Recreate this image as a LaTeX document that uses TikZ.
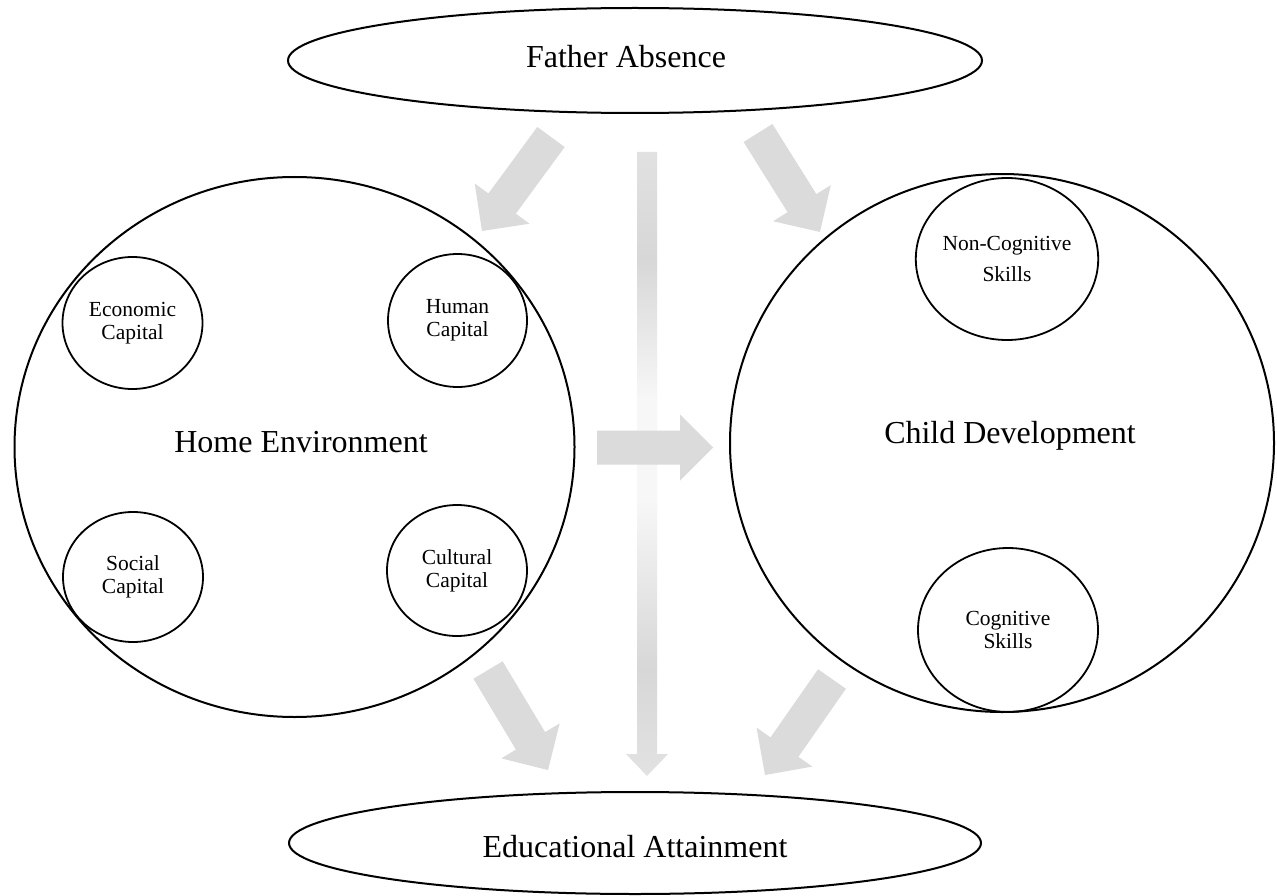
\documentclass[tikz,border=0pt]{standalone}
\usepackage{fontspec}
\setmainfont{Liberation Serif}
\usetikzlibrary{shapes.geometric,calc}
\definecolor{arrowgray}{RGB}{219,219,219}
\definecolor{ga}{RGB}{226,226,226}
\definecolor{gb}{RGB}{215,215,215}
\definecolor{gc}{RGB}{247,247,247}
\definecolor{gd}{RGB}{225,225,225}
\pgfdeclareverticalshading{vgrad}{100bp}{color(0bp)=(ga); color(25bp)=(ga); color(33.6bp)=(gb); color(47.2bp)=(gc); color(55.2bp)=(gc); color(66.4bp)=(gb); color(75bp)=(gd); color(100bp)=(gd)}
% #1 options, #2 from, #3 to, #4 half shaft, #5 half head, #6 head length
\newcommand\fatarrow[6]{%
  \coordinate (#2-h) at ($(#3)!#6!(#2)$);
  \path[#1] ($(#2)!#4!90:(#3)$) -- ($(#2-h)!#4!90:(#3)$) -- ($(#2-h)!#5!90:(#3)$) -- (#3)
    -- ($(#2-h)!#5!-90:(#3)$) -- ($(#2-h)!#4!-90:(#3)$) -- ($(#2)!#4!-90:(#3)$) -- cycle;
}
\begin{document}
\begin{tikzpicture}[x=1pt,y=-1pt,
  oval/.style={draw, line width=2pt, ellipse, inner sep=0pt},
  bigc/.style={draw, line width=2pt, ellipse, inner sep=0pt},
  smallc/.style={draw, line width=1.8pt, ellipse, inner sep=0pt, align=center,
    font=\fontsize{21.5}{23}\selectfont},
  bigtext/.style={font=\fontsize{32}{38}\selectfont, anchor=base, inner sep=0pt},
  flatarrow/.style={fill=arrowgray},
  gradarrow/.style={shade, shading=vgrad}]
\fill[white] (0,0) rectangle (1277,896);
\useasboundingbox (0,0) rectangle (1277,896);

% arrow end points
\coordinate (a1s) at (551,137);   \coordinate (a1e) at (482,231);
\coordinate (a2s) at (758,133);   \coordinate (a2e) at (820,232);
\coordinate (a3s) at (488,670);   \coordinate (a3e) at (548,770);
\coordinate (a4s) at (832,679);   \coordinate (a4e) at (765,775);
\coordinate (hs) at (597,447.5);  \coordinate (he) at (713,447.5);
\coordinate (vs) at (647,152);    \coordinate (ve) at (647,776);

\fatarrow{gradarrow}{vs}{ve}{10pt}{21pt}{22pt}
\fatarrow{flatarrow}{a1s}{a1e}{17pt}{34pt}{34pt}
\fatarrow{flatarrow}{a2s}{a2e}{17pt}{34pt}{34pt}
\fatarrow{flatarrow}{a3s}{a3e}{17pt}{34pt}{34pt}
\fatarrow{flatarrow}{a4s}{a4e}{17pt}{34pt}{34pt}
\fatarrow{flatarrow}{hs}{he}{17pt}{33pt}{33pt}

% ovals
\node[oval, minimum width=694pt, minimum height=105pt] (father) at (635,60.5) {};
\node[bigtext] (fathertxt) at (626,68) {Father Absence};
\node[oval, minimum width=692pt, minimum height=102pt] (edu) at (635,843) {};
\node[bigtext] (edutxt) at (635,857) {Educational Attainment};

% home environment
\node[bigc, minimum width=560pt, minimum height=540pt] (home) at (294.5,447) {};
\node[bigtext] (hometxt) at (301,452) {Home Environment};
\node[smallc, minimum width=140pt, minimum height=132pt] (econ) at (132.5,323) {Economic\\Capital};
\node[smallc, minimum width=139pt, minimum height=133pt] (human) at (457.5,320.5) {Human\\Capital};
\node[smallc, minimum width=140pt, minimum height=130pt] (social) at (133,577) {Social\\Capital};
\node[smallc, minimum width=140pt, minimum height=131pt] (cultural) at (457,570.5) {Cultural\\Capital};

% child development
\node[bigc, minimum width=544pt, minimum height=538pt] (child) at (1002,443) {};
\node[bigtext] (childtxt) at (1010,443) {Child Development};
\node[smallc, minimum width=180pt, minimum height=162pt] (noncog) at (1007,259) {Non-Cognitive\\[8.5pt]Skills};
\node[smallc, minimum width=180pt, minimum height=164pt] (cog) at (1008,630) {Cognitive\\Skills};
\end{tikzpicture}
\end{document}
